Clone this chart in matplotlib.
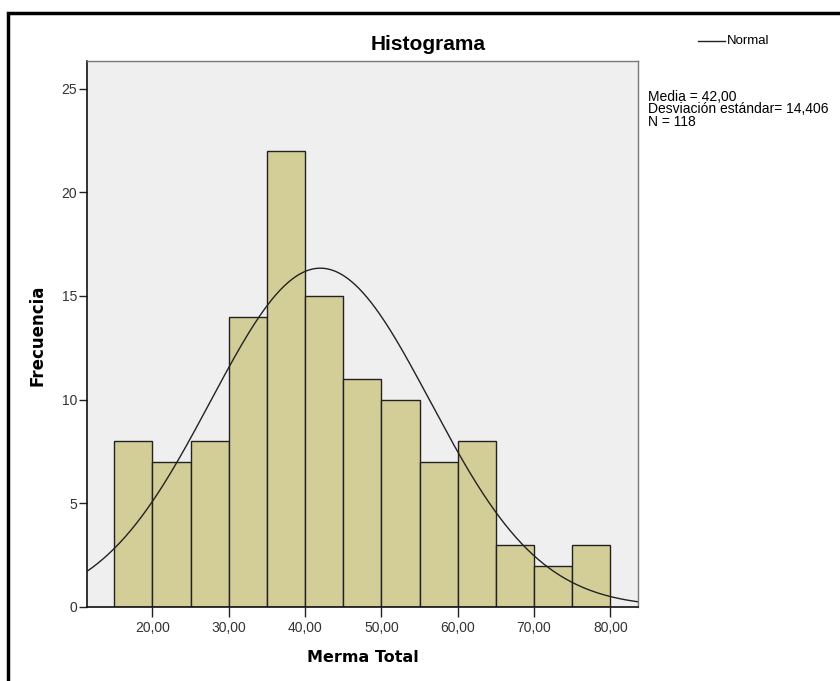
import numpy as np
import matplotlib.pyplot as plt
from matplotlib.patches import Rectangle

# bin edges and frequencies
bin_edges = [15, 20, 25, 30, 35, 40, 45, 50, 55, 60, 65, 70, 75, 80]
freqs = [8, 7, 8, 14, 22, 15, 11, 10, 7, 8, 3, 2, 3]
mean = 42.00
sd = 14.406
n = 118
xticks = [20, 30, 40, 50, 60, 70, 80]
xtick_labels = ["20,00", "30,00", "40,00", "50,00", "60,00", "70,00", "80,00"]
yticks = [0, 5, 10, 15, 20, 25]

plt.rcParams['font.family'] = ['Liberation Sans', 'DejaVu Sans']

fig = plt.figure(figsize=(8.4, 6.81), dpi=100)
W, H = 840, 681
ax = fig.add_axes([87 / W, 1 - 607 / H, (638 - 87) / W, (607 - 61) / H])
ax.set_facecolor('#efefef')

widths = np.diff(bin_edges)
ax.bar(bin_edges[:-1], freqs, width=widths, align='edge',
       color='#d3ce98', edgecolor='#222222', linewidth=1.0, zorder=2)

x = np.linspace(11.4, 83.6, 400)
bw = bin_edges[1] - bin_edges[0]
y = n * bw / (sd * np.sqrt(2 * np.pi)) * np.exp(-0.5 * ((x - mean) / sd) ** 2)
ax.plot(x, y, color='#222222', linewidth=1.0, zorder=3)

ax.set_xlim(11.43, 83.62)
ax.set_ylim(0, 26.33)
ax.set_xticks(xticks)
ax.set_xticklabels(xtick_labels)
ax.set_yticks(yticks)
ax.tick_params(direction='out', width=1, colors='#222222',
               labelsize=10, labelcolor='#333333')
ax.tick_params(axis='x', length=7, pad=3)
ax.tick_params(axis='y', length=6, pad=1)
for s in ['left', 'bottom']:
    ax.spines[s].set_color('#111111')
    ax.spines[s].set_linewidth(1.2)
for s in ['top', 'right']:
    ax.spines[s].set_color('#777777')
    ax.spines[s].set_linewidth(1.0)

# title is centered over the whole chart area (incl. legend), like SPSS
fig.text(428 / W, 1 - 45 / H, "Histograma", fontsize=15, fontweight='bold',
         ha='center', va='center')
fig.text(363 / W, 1 - 657 / H, "Merma Total", fontsize=11.5,
         fontweight='bold', ha='center', va='center', family='DejaVu Sans')
fig.text(37 / W, 1 - 335 / H, "Frecuencia", fontsize=12,
         fontweight='bold', ha='center', va='center', rotation=90,
         family='DejaVu Sans')

# legend-like line and stats text on the right
fig.add_artist(plt.Line2D([698 / W, 725 / W], [1 - 41 / H, 1 - 41 / H],
                          color='#222222', linewidth=1.0))
fig.text(727 / W, 1 - 41 / H, "Normal", fontsize=9.5, va='center', ha='left')
fig.text(648 / W, 1 - 90 / H,
         "Media = 42,00\nDesviación estándar= 14,406\nN = 118",
         fontsize=10, va='top', ha='left', linespacing=0.85)

# outer frame (cropped at right and bottom)
fig.add_artist(Rectangle((8 / W, -0.05), 1.1, 1 - 13 / H + 0.05,
                         transform=fig.transFigure, fill=False,
                         edgecolor='black', linewidth=2.5))

fig.savefig("out.png", dpi=100)
